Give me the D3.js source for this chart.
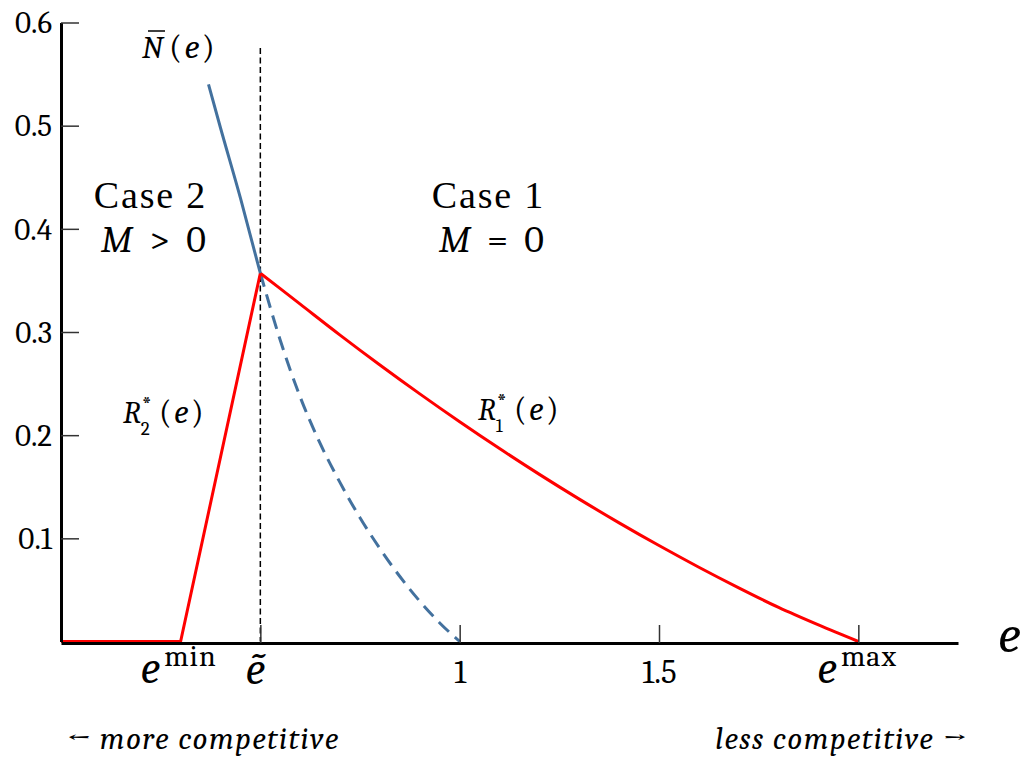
<!DOCTYPE html>
<html>
<head>
<meta charset="utf-8">
<script src="https://cdn.jsdelivr.net/npm/d3@7"></script>
<style>
  body { margin: 0; background: #fff; }
  svg { display: block; }
</style>
</head>
<body>
<svg id="svg"></svg>
<script>
const svgWidth = 1027;
const svgHeight = 763;

// values
const yTicks = [0.1, 0.2, 0.3, 0.4, 0.5, 0.6];
const xTickValues = [0.5, 1, 1.5, 2];
const xTickText = ["", "1", "1.5", ""];

const eMin = 0.3;
const eTilde = 0.5;
const eMax = 2.0;

// R2*(e): flat at zero, then rising to the kink at e tilde
const r2E = [0, 0.3, 0.5];
const r2Val = [0, 0, 0.357];

// R1*(e): from the kink down to e max
const r1E = [0.5, 0.6, 0.7, 0.8, 0.9, 1.0, 1.1, 1.2, 1.3, 1.4, 1.5, 1.6, 1.7, 1.8, 1.9, 2.0];
const r1Val = [0.357, 0.327, 0.297, 0.268, 0.240, 0.213, 0.187, 0.162, 0.138, 0.115, 0.093, 0.072, 0.052, 0.033, 0.016, 0];

// N-bar(e): solid part and dashed continuation
const nSolidE = [0.37, 0.40, 0.45, 0.5];
const nSolidVal = [0.540, 0.498, 0.430, 0.357];
const nDashE = [0.5, 0.55, 0.6, 0.65, 0.7, 0.75, 0.8, 0.85, 0.9, 0.95, 1.0];
const nDashVal = [0.357, 0.292, 0.237, 0.192, 0.154, 0.120, 0.090, 0.063, 0.039, 0.018, 0];

const red = "#ff0000";
const blue = "#43719e";
const font = "\"Cambria\", \"Liberation Serif\", serif";
const titleFont = "\"Liberation Serif\", serif";

let svg = d3.select("#svg");
let xScale, yScale;

function initializeSVG() {
  svg.attr("width", svgWidth).attr("height", svgHeight);
  svg.selectAll("*").remove();

  xScale = d3.scaleLinear().domain([0, 2.25]).range([61, 958]);
  yScale = d3.scaleLinear().domain([0, 0.6]).range([641.5, 22.5]);
}

function drawAxes() {
  const yAxis = d3.axisLeft(yScale)
    .tickValues(yTicks)
    .tickSizeInner(-18)
    .tickSizeOuter(0)
    .tickPadding(9)
    .tickFormat(d3.format(".1f"));

  const gy = svg.append("g")
    .attr("transform", `translate(${xScale(0)},0)`)
    .call(yAxis);
  gy.select(".domain").attr("stroke", "#000").attr("stroke-width", 3);
  gy.selectAll(".tick line").attr("stroke", "#333").attr("stroke-width", 1.5);
  gy.selectAll(".tick text")
    .style("font-family", font)
    .style("font-size", "31px")
    .attr("fill", "#000")
    .attr("dy", "0.33em");

  const xAxis = d3.axisBottom(xScale)
    .tickValues(xTickValues)
    .tickSizeInner(-18)
    .tickSizeOuter(0)
    .tickPadding(0)
    .tickFormat((d, i) => xTickText[i]);

  // axis line drawn a touch below zero so the red floor stays visible
  const gx = svg.append("g")
    .attr("transform", `translate(0,${yScale(0) + 1.5})`)
    .call(xAxis);
  gx.select(".domain").attr("stroke", "#000").attr("stroke-width", 3);
  gx.selectAll(".tick line").attr("stroke", "#333").attr("stroke-width", 1.5);
  gx.selectAll(".tick text")
    .style("font-family", font)
    .style("font-size", "33px")
    .attr("fill", "#000")
    .attr("y", 40)
    .attr("dy", null);

  // e labels under the axis
  const eLabels = [
    { v: eMin, sup: "min", dx: -40 },
    { v: eMax, sup: "max", dx: -41 }
  ];
  eLabels.forEach(l => {
    const t = svg.append("text")
      .attr("x", xScale(l.v) + l.dx)
      .attr("y", 683)
      .style("font-family", font)
      .style("font-size", "45px")
      .attr("fill", "#000");
    t.append("tspan").style("font-style", "italic").text("e");
    t.append("tspan")
      .attr("dx", 4)
      .attr("dy", -17)
      .style("font-size", "30px")
      .style("letter-spacing", "1px")
      .text(l.sup);
  });

  svg.append("text")
    .attr("x", xScale(eTilde) - 5)
    .attr("y", 684)
    .attr("text-anchor", "middle")
    .style("font-family", font)
    .style("font-size", "45px")
    .style("font-style", "italic")
    .text("\u1EBD");

  // axis name
  svg.append("text")
    .attr("x", 998)
    .attr("y", 652)
    .style("font-family", font)
    .style("font-size", "52px")
    .style("font-style", "italic")
    .text("e");
}

function drawCurves() {
  const line = d3.line()
    .x(d => xScale(d[0]))
    .y(d => yScale(d[1]));
  const smooth = d3.line()
    .x(d => xScale(d[0]))
    .y(d => yScale(d[1]))
    .curve(d3.curveMonotoneX);

  // vertical dashed marker at e tilde
  svg.append("line")
    .attr("x1", xScale(eTilde)).attr("x2", xScale(eTilde))
    .attr("y1", 48).attr("y2", yScale(0))
    .attr("stroke", "#000")
    .attr("stroke-width", 1.5)
    .attr("stroke-dasharray", "6,3.5");

  svg.append("path")
    .datum(nDashE.map((e, i) => [e, nDashVal[i]]))
    .attr("d", smooth)
    .attr("fill", "none")
    .attr("stroke", blue)
    .attr("stroke-width", 3)
    .attr("stroke-dasharray", "14,8");

  svg.append("path")
    .datum(r2E.map((e, i) => [e, r2Val[i]]))
    .attr("d", line)
    .attr("fill", "none")
    .attr("stroke", red)
    .attr("stroke-width", 3);

  svg.append("path")
    .datum(r1E.map((e, i) => [e, r1Val[i]]))
    .attr("d", smooth)
    .attr("fill", "none")
    .attr("stroke", red)
    .attr("stroke-width", 3);

  svg.append("path")
    .datum(nSolidE.map((e, i) => [e, nSolidVal[i]]))
    .attr("d", smooth)
    .attr("fill", "none")
    .attr("stroke", blue)
    .attr("stroke-width", 3);
}

// italic letter, optional sup/sub stacked after it, then (e)
function mathLabel(x, y, size, letter, sub, sup, parenX) {
  const t = svg.append("text")
    .attr("x", x)
    .attr("y", y)
    .style("font-family", font)
    .style("font-size", size + "px")
    .style("font-style", "italic")
    .text(letter);
  const w = t.node().getComputedTextLength();
  if (sup) {
    svg.append("text")
      .attr("x", x + w + 1).attr("y", y - 10)
      .style("font-family", font)
      .style("font-size", "23px")
      .text(sup);
  }
  if (sub) {
    svg.append("text")
      .attr("x", x + w).attr("y", y + 12)
      .style("font-family", font)
      .style("font-size", "19px")
      .text(sub);
  }
  const p = svg.append("text")
    .attr("x", x + parenX)
    .attr("y", y)
    .style("font-family", font)
    .style("font-size", (size + 2) + "px")
    .style("letter-spacing", "2.5px");
  p.append("tspan").text("(");
  p.append("tspan").style("font-style", "italic").text("e");
  p.append("tspan").text(")");
  return t;
}

function drawLabels() {
  // N-bar(e)
  const nLab = mathLabel(142, 58, 32, "N", null, null, 27);
  const nBox = nLab.node().getBBox();
  svg.append("line")
    .attr("x1", nBox.x + 6).attr("x2", nBox.x + nBox.width)
    .attr("y1", 31).attr("y2", 31)
    .attr("stroke", "#000").attr("stroke-width", 1.5);

  mathLabel(123, 423, 31, "R", "2", "*", 36);
  mathLabel(478, 420, 31, "R", "1", "*", 36);

  const cases = [
    { x: 207, title: "Case 2", rel: " > 0" },
    { x: 545, title: "Case 1", rel: " = 0" }
  ];
  cases.forEach(c => {
    svg.append("text")
      .attr("x", c.x).attr("y", 208)
      .attr("text-anchor", "end")
      .style("font-family", titleFont)
      .style("font-size", "38px")
      .style("letter-spacing", "1.8px")
      .text(c.title);
    const m = svg.append("text")
      .attr("x", c.x).attr("y", 252)
      .attr("text-anchor", "end")
      .style("font-family", font)
      .style("font-size", "38px")
      .style("letter-spacing", "1px")
      .style("word-spacing", "6px");
    m.append("tspan").style("font-style", "italic").text("M");
    m.append("tspan").text(c.rel);
  });

  svg.append("text")
    .attr("x", 67).attr("y", 749)
    .style("font-family", font)
    .style("font-size", "31px")
    .style("font-style", "italic")
    .style("letter-spacing", "1.4px")
    .text("\u2190 more competitive");

  svg.append("text")
    .attr("x", 967).attr("y", 749)
    .attr("text-anchor", "end")
    .style("font-family", font)
    .style("font-size", "31px")
    .style("font-style", "italic")
    .style("letter-spacing", "1.4px")
    .text("less competitive \u2192");
}

function initialize() {
  initializeSVG();
  drawCurves();
  drawAxes();
  drawLabels();
}

initialize();
</script>
</body>
</html>
